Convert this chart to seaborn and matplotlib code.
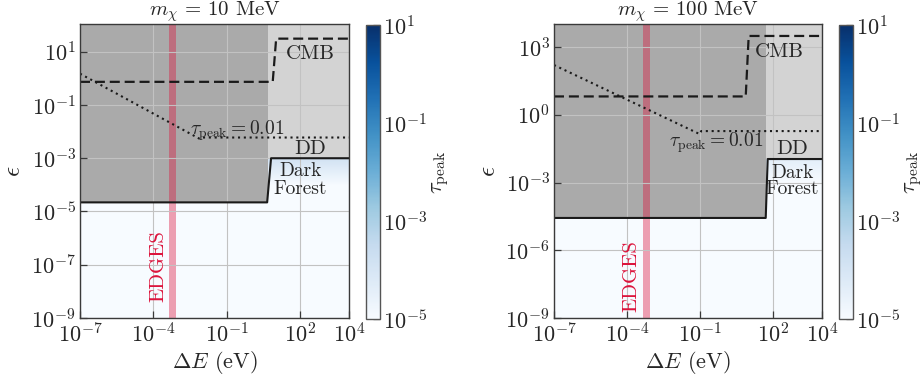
import numpy as np
import matplotlib
matplotlib.use("Agg")
import matplotlib.pyplot as plt
import seaborn as sns
from matplotlib.colors import LogNorm
from matplotlib.cm import ScalarMappable
from matplotlib.ticker import LogFormatterSciNotation, NullLocator

# ---------------- data ----------------
masses = ["10", "100"]

# axis ranges / ticks
x_lim = [1e-7, 1e4]
x_ticks = [1e-7, 1e-4, 1e-1, 1e2, 1e4]
y_lim_L = [1e-9, 1.1e2]
y_lim_R = [1e-9, 1.05e4]
y_ticks_L = [1e-9, 1e-7, 1e-5, 1e-3, 1e-1, 1e1]
y_ticks_R = [1e-9, 1e-6, 1e-3, 1e0, 1e3]
cbar_ticks = [1e-5, 1e-3, 1e-1, 1e1]

# tau_peak background (function of epsilon)
eps_nodes_L = [1e-9, 1e-4, 1e-3, 1e-2, 1e2]
tau_nodes_L = [1e-6, 1.6e-6, 1.6e-4, 1.6e-2, 10.0]
eps_nodes_R = [1e-9, 1e-3, 1e-2, 1e-1, 1e4]
tau_nodes_R = [1e-6, 4e-7, 4e-5, 4e-3, 10.0]

# CMB limit (dashed)
cmb_x_L = [1e-7, 7.6, 10.5, 1e4]
cmb_y_L = [0.74, 0.74, 31.0, 31.0]
cmb_x_R = [1e-7, 7.4, 9.8, 1e4]
cmb_y_R = [6.5, 6.5, 3100.0, 3100.0]

# tau_peak = 0.01 contour (dotted)
tau_x_L = [1e-7, 8e-3, 1e-2, 1e4]
tau_y_L = [1.5, 5.3e-3, 6.0e-3, 6.0e-3]
tau_x_R = [1e-7, 0.095, 0.11, 1e4]
tau_y_R = [160.0, 0.14, 0.19, 0.19]

# Dark Forest / DD boundary (solid)
df_x_L = [1e-7, 4.5, 6.5, 1e4]
df_y_L = [2.2e-5, 2.2e-5, 1.0e-3, 1.0e-3]
df_x_R = [1e-7, 49.0, 59.0, 1e4]
df_y_R = [2.7e-5, 2.7e-5, 1.1e-2, 1.1e-2]

# shaded exclusion regions: dark (x0, x1, y_low), light DD (x0, x1, y_low)
dark_L = [1e-7, 4.8, 2.2e-5]
light_L = [4.8, 1e4, 1.0e-3]
dark_R = [1e-7, 49.0, 2.7e-5]
light_R = [49.0, 1e4, 1.1e-2]

# EDGES band
edges_band = [4.5e-4, 8.5e-4]

# text labels: (x, y)
cmb_pos_L, dd_pos_L, df_pos_L, tl_pos_L, ed_pos_L = (270, 8.3), (270, 2.2e-3), (100, 1.5e-4), (0.26, 1.1e-2), (1.55e-4, 9e-8)
cmb_pos_R, dd_pos_R, df_pos_R, tl_pos_R, ed_pos_R = (174, 600), (600, 0.03), (600, 1.2e-3), (0.47, 0.06), (1.55e-4, 6.9e-8)

# ---------------- style ----------------
sns.set_theme(style="ticks")
plt.rcParams.update({
    "font.family": "serif",
    "font.serif": ["cmr10"],
    "mathtext.fontset": "cm",
    "axes.formatter.use_mathtext": True,
    "font.size": 16,
    "axes.unicode_minus": True,
})

W, H = 924, 381
fig = plt.figure(figsize=(W / 100, H / 100), dpi=100)
axL = fig.add_axes([80 / W, 63 / H, 269 / W, 294 / H])
caxL = fig.add_axes([366 / W, 62 / H, 14 / W, 294 / H])
axR = fig.add_axes([554 / W, 63 / H, 268 / W, 294 / H])
caxR = fig.add_axes([839 / W, 62 / H, 14 / W, 294 / H])

norm = LogNorm(1e-5, 10)
cmap = plt.get_cmap("Blues")
spine_c = "#3a3a3a"


def panel(ax, cax, mass, ylim, yticks, eps_nodes, tau_nodes, cmb_x, cmb_y,
          tx, ty, dfx, dfy, dark, light, cmb_pos, dd_pos, df_pos, tl_pos,
          ed_pos, df_ls):
    ax.set_xscale("log")
    ax.set_yscale("log")
    # background tau_peak
    X = np.array(x_lim)
    Y = np.array(eps_nodes)
    C = np.repeat(np.array(tau_nodes)[:, None], len(X), axis=1)
    ax.pcolormesh(X, Y, C, shading="gouraud", cmap=cmap, norm=norm, zorder=0)
    # exclusion regions
    top = ylim[1]
    ax.fill_between(dark[:2], [dark[2]] * 2, [top] * 2, color="#aaaaaa", lw=0, zorder=1)
    ax.fill_between(light[:2], [light[2]] * 2, [top] * 2, color="#d3d3d3", lw=0, zorder=1)
    # EDGES
    ax.axvspan(edges_band[0], edges_band[1], color="crimson", alpha=0.4, lw=0, zorder=2)
    # lines
    sns.lineplot(x=cmb_x, y=cmb_y, ax=ax, color="k", lw=1.6, linestyle=(0, (4.5, 2.2)),
                 estimator=None, sort=False, zorder=4)
    sns.lineplot(x=tx, y=ty, ax=ax, color="k", lw=1.5, linestyle=(0, (1, 1.8)),
                 estimator=None, sort=False, zorder=4)
    sns.lineplot(x=dfx, y=dfy, ax=ax, color="k", lw=1.5, estimator=None, sort=False, zorder=4)

    ax.set_xlim(x_lim)
    ax.set_ylim(ylim)
    ax.set_xticks(x_ticks)
    ax.set_yticks(yticks)
    ax.xaxis.set_major_formatter(LogFormatterSciNotation())
    ax.yaxis.set_major_formatter(LogFormatterSciNotation())
    ax.xaxis.set_minor_locator(NullLocator())
    ax.yaxis.set_minor_locator(NullLocator())
    ax.set_axisbelow(False)
    ax.grid(True, color="#c2c2c2", lw=0.8)
    ax.tick_params(direction="in", length=5, width=0.9, color=spine_c,
                   labelsize=16, pad=3)
    for s in ax.spines.values():
        s.set_color(spine_c)
        s.set_linewidth(1.0)
        s.set_zorder(5)

    ax.set_title(r"$m_\chi\,=\,%s$ MeV" % mass, fontsize=15, pad=0)
    ax.set_xlabel(r"$\Delta E$ (eV)", fontsize=16, labelpad=2)
    ax.set_ylabel(r"$\epsilon$", fontsize=18, labelpad=4)

    ax.text(*cmb_pos, "CMB", ha="center", va="center", fontsize=15, zorder=6)
    ax.text(*dd_pos, "DD", ha="center", va="center", fontsize=15, zorder=6)
    ax.text(*df_pos, "Dark\nForest", ha="center", va="center", fontsize=14,
            linespacing=df_ls, multialignment="center", zorder=6)
    ax.text(*tl_pos, r"$\tau_{\rm peak} = 0.01$", ha="center", va="center",
            fontsize=14, zorder=6)
    ax.text(*ed_pos, "EDGES", ha="center", va="center", rotation=90,
            color="crimson", fontsize=15, zorder=6)

    cb = fig.colorbar(ScalarMappable(norm=norm, cmap=cmap), cax=cax)
    cb.set_ticks(cbar_ticks)
    cb.ax.yaxis.set_major_formatter(LogFormatterSciNotation())
    cb.minorticks_off()
    cb.outline.set_edgecolor("#555555")
    cb.outline.set_linewidth(1.0)
    cax.tick_params(direction="in", length=5, width=0.9, color=spine_c,
                    labelsize=16, pad=2)
    cb.set_label(r"$\tau_{\rm peak}$", fontsize=16, labelpad=2)


panel(axL, caxL, masses[0], y_lim_L, y_ticks_L, eps_nodes_L, tau_nodes_L,
      cmb_x_L, cmb_y_L, tau_x_L, tau_y_L, df_x_L, df_y_L, dark_L, light_L,
      cmb_pos_L, dd_pos_L, df_pos_L, tl_pos_L, ed_pos_L, 1.0)
panel(axR, caxR, masses[1], y_lim_R, y_ticks_R, eps_nodes_R, tau_nodes_R,
      cmb_x_R, cmb_y_R, tau_x_R, tau_y_R, df_x_R, df_y_R, dark_R, light_R,
      cmb_pos_R, dd_pos_R, df_pos_R, tl_pos_R, ed_pos_R, 0.85)

fig.savefig("out.png", dpi=100)
